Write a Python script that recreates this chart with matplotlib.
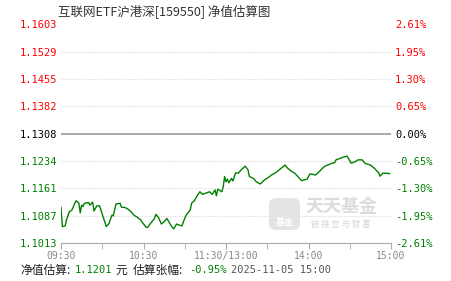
import matplotlib
matplotlib.use("Agg")
import matplotlib.pyplot as plt
from matplotlib.patches import FancyBboxPatch

# trading minutes after 09:30 (11:30 and 13:00 share minute 120)
minutes = [0, 1, 3, 4, 6, 8, 10, 11, 13, 14, 15, 16, 17, 20, 21, 23, 24, 26, 28, 29,
           31, 33, 35, 37, 38, 40, 43, 44, 46, 48, 51, 53, 56, 58, 59, 62, 63, 66, 68, 69,
           71, 73, 75, 77, 79, 81, 82, 84, 86, 88, 89, 91, 94, 95, 97, 99, 101, 103, 106, 108,
           110, 112, 113, 114, 117, 118, 119, 120, 121, 122, 124, 125, 127, 129, 131, 134, 136, 137, 140, 142,
           145, 148, 151, 153, 156, 158, 160, 163, 165, 168, 170, 172, 175, 177, 179, 181, 182, 185, 187, 190,
           192, 194, 197, 199, 200, 203, 205, 208, 209, 211, 214, 216, 219, 221, 225, 228, 231, 232, 234, 236,
           239]
nav = [1.1110, 1.1058, 1.1060, 1.1076, 1.1098, 1.1103, 1.1121, 1.1128, 1.1121, 1.1095,
       1.1116, 1.1112, 1.1121, 1.1123, 1.1116, 1.1124, 1.1100, 1.1114, 1.1114, 1.1103,
       1.1080, 1.1058, 1.1067, 1.1089, 1.1087, 1.1119, 1.1121, 1.1110, 1.1110, 1.1107,
       1.1098, 1.1089, 1.1082, 1.1076, 1.1070, 1.1056, 1.1056, 1.1071, 1.1080, 1.1091,
       1.1082, 1.1065, 1.1071, 1.1080, 1.1067, 1.1056, 1.1052, 1.1065, 1.1062, 1.1060,
       1.1071, 1.1089, 1.1103, 1.1121, 1.1128, 1.1141, 1.1152, 1.1145, 1.1149, 1.1152,
       1.1145, 1.1157, 1.1141, 1.1159, 1.1152, 1.1166, 1.1193, 1.1179, 1.1186, 1.1176,
       1.1188, 1.1181, 1.1203, 1.1202, 1.1211, 1.1221, 1.1211, 1.1193, 1.1188, 1.1179,
       1.1173, 1.1184, 1.1191, 1.1197, 1.1203, 1.1209, 1.1215, 1.1224, 1.1215, 1.1206,
       1.1202, 1.1194, 1.1182, 1.1184, 1.1186, 1.1200, 1.1200, 1.1197, 1.1203, 1.1215,
       1.1221, 1.1224, 1.1229, 1.1230, 1.1238, 1.1242, 1.1245, 1.1248, 1.1242, 1.1229,
       1.1233, 1.1238, 1.1238, 1.1229, 1.1224, 1.1215, 1.1203, 1.1194, 1.1202, 1.1202,
       1.1201]

nav_ticks = [1.1013, 1.1087, 1.1161, 1.1234, 1.1308, 1.1382, 1.1455, 1.1529, 1.1603]
pct_ticks = ["-2.61%", "-1.95%", "-1.30%", "-0.65%", "0.00%", "0.65%", "1.30%", "1.95%", "2.61%"]
base_nav = 1.1308
time_ticks = [0, 60, 120, 180, 240]
time_labels = ["09:30", "10:30", "11:30/13:00", "14:00", "15:00"]
minor_time = [30, 90, 150, 210]

title = "互联网ETF沪港深[159550] 净值估算图"
est_nav = "1.1201"
est_pct = "-0.95%"
stamp = "2025-11-05 15:00"

RED, GREEN, GREY = "#ff0000", "#008000", "#888888"
cjk = ["Noto Sans CJK SC", "DejaVu Sans"]
mono = "DejaVu Sans Mono"

W, H = 451, 281
fig = plt.figure(figsize=(W / 100, H / 100), dpi=100)
ax = fig.add_axes([61 / W, 1 - 243.3 / H, 330 / W, 218.8 / H])

def col(v):
    return RED if v > base_nav else (GREEN if v < base_nav else "black")

for v in nav_ticks:
    if v == base_nav:
        ax.axhline(v, color="#999999", lw=1.2, zorder=1)
    elif v != nav_ticks[0]:
        ax.axhline(v, color="#dddddd", lw=0.8, ls=(0, (1, 1)), zorder=1)

ax.plot(minutes, nav, color=GREEN, lw=1.0, zorder=3)

ax.set_xlim(0, 240)
ax.set_ylim(nav_ticks[0], nav_ticks[-1])
for s in ["top", "left", "right"]:
    ax.spines[s].set_visible(False)
ax.spines["bottom"].set_color("#aaaaaa")

ax.set_yticks(nav_ticks)
ax.set_yticklabels([f"{v:.4f}" for v in nav_ticks], family=mono, fontsize=7.5)
for lab, v in zip(ax.get_yticklabels(), nav_ticks):
    lab.set_color(col(v))
ax.tick_params(axis="y", length=0, pad=3)

ax.set_xticks(time_ticks)
ax.set_xticks(minor_time, minor=True)
ax.set_xticklabels(time_labels, family=mono, fontsize=7, color=GREY)
ax.tick_params(axis="x", which="both", length=4, color="#aaaaaa", pad=1.5)

ax2 = ax.twinx()
ax2.set_ylim(ax.get_ylim())
ax2.set_yticks(nav_ticks)
ax2.set_yticklabels(pct_ticks, family=mono, fontsize=7.5)
for lab, v in zip(ax2.get_yticklabels(), nav_ticks):
    lab.set_color(col(v))
ax2.tick_params(axis="y", length=0, pad=3)
for s in ax2.spines.values():
    s.set_visible(False)

# watermark
logo = FancyBboxPatch((269 / W, 1 - 230 / H), 31 / W, 32 / H,
                      boxstyle="round,pad=0,rounding_size=0.02",
                      transform=fig.transFigure, fc="#e4e4e4", ec="none", zorder=0)
fig.patches.append(logo)
fig.text(284.5 / W, 1 - 222 / H, "基金", family=cjk, fontsize=6.5, color="white",
         ha="center", va="center", weight="bold")
fig.text(341 / W, 1 - 207 / H, "天天基金", family=cjk, fontsize=13, color="#dcdcdc",
         ha="center", va="center", weight="bold")
fig.text(341 / W, 1 - 224 / H, "链 接 您 与 财 富", family=cjk, fontsize=6, color="#d4d4d4",
         ha="center", va="center")

fig.text(58 / W, 1 - 12 / H, title, family=cjk, fontsize=9, color="#333333",
         ha="left", va="center")

yb = 1 - 270 / H
fig.text(20 / W, yb, "净值估算:", family=cjk, fontsize=8.5, color="#222222", va="center")
fig.text(75 / W, yb, est_nav, family=mono, fontsize=7.5, color=GREEN, va="center")
fig.text(115 / W, yb, "元", family=cjk, fontsize=8.5, color="#222222", va="center")
fig.text(133 / W, yb, "估算张幅:", family=cjk, fontsize=8.5, color="#222222", va="center")
fig.text(189 / W, yb, est_pct, family=mono, fontsize=7.5, color=GREEN, va="center")
fig.text(231 / W, yb, stamp, family=mono, fontsize=7.5, color="#555555", va="center")

fig.savefig("out.png", dpi=100)
